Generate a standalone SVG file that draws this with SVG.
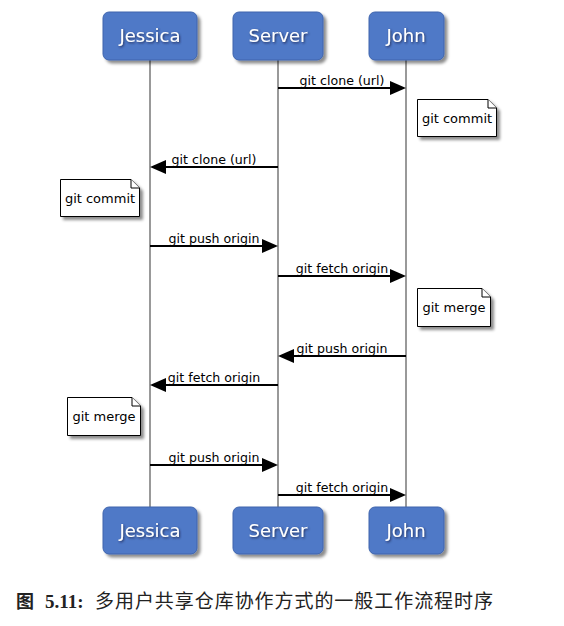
<svg xmlns="http://www.w3.org/2000/svg" width="564" height="626" viewBox="0 0 564 626">
<defs>
<filter id="sh" x="-20%" y="-20%" width="150%" height="150%">
<feDropShadow dx="3" dy="3" stdDeviation="1.5" flood-color="#000" flood-opacity="0.45"/>
</filter>
<filter id="tsh" x="-20%" y="-40%" width="140%" height="180%">
<feDropShadow dx="1" dy="1.2" stdDeviation="0.8" flood-color="#1a2a55" flood-opacity="0.9"/>
</filter>
<marker id="ah" markerUnits="userSpaceOnUse" markerWidth="16" markerHeight="14" refX="8" refY="7" orient="auto">
<path d="M0,0 L16,7 L0,14 z" fill="#000"/>
</marker>
</defs>
<style>
.actor{fill:#4f79c7;stroke:#3f64ad;stroke-width:1}
.alabel{font-family:"DejaVu Sans",sans-serif;font-size:18px;fill:#fff;text-anchor:middle}
.life{stroke:#999;stroke-width:2}
.msg{stroke:#000;stroke-width:2;fill:none}
.mlabel{font-family:"DejaVu Sans",sans-serif;font-size:12.6px;fill:#000;text-anchor:middle}
.note{fill:#fff;stroke:#000;stroke-width:1}
.nlabel{font-family:"DejaVu Sans",sans-serif;font-size:13px;fill:#000;text-anchor:middle}
</style>
<rect width="564" height="626" fill="#fff"/>

<g id="lifelines">
<line class="life" x1="150" y1="60" x2="150" y2="507"/>
<line class="life" x1="278" y1="60" x2="278" y2="507"/>
<line class="life" x1="406" y1="60" x2="406" y2="507"/>
</g>

<g id="jessica-top"><rect class="actor" x="103" y="12" width="94" height="48" rx="6" filter="url(#sh)"/><text class="alabel" x="150" y="42" filter="url(#tsh)">Jessica</text></g>
<g id="server-top"><rect class="actor" x="233" y="12" width="90" height="48" rx="6" filter="url(#sh)"/><text class="alabel" x="278" y="42" filter="url(#tsh)">Server</text></g>
<g id="john-top"><rect class="actor" x="369" y="12" width="75" height="48" rx="6" filter="url(#sh)"/><text class="alabel" x="406" y="42" filter="url(#tsh)">John</text></g>

<g id="jessica-bottom"><rect class="actor" x="103" y="507" width="94" height="47" rx="6" filter="url(#sh)"/><text class="alabel" x="150" y="537" filter="url(#tsh)">Jessica</text></g>
<g id="server-bottom"><rect class="actor" x="233" y="507" width="90" height="47" rx="6" filter="url(#sh)"/><text class="alabel" x="278" y="537" filter="url(#tsh)">Server</text></g>
<g id="john-bottom"><rect class="actor" x="369" y="507" width="75" height="47" rx="6" filter="url(#sh)"/><text class="alabel" x="406" y="537" filter="url(#tsh)">John</text></g>

<g id="connectors">
<line class="msg" x1="278" y1="88" x2="398" y2="88" marker-end="url(#ah)"/>
<text class="mlabel" x="342" y="85">git clone (url)</text>
<line class="msg" x1="278" y1="167" x2="158" y2="167" marker-end="url(#ah)"/>
<text class="mlabel" x="214" y="164">git clone (url)</text>
<line class="msg" x1="150" y1="246" x2="270" y2="246" marker-end="url(#ah)"/>
<text class="mlabel" x="214" y="243">git push origin</text>
<line class="msg" x1="278" y1="276" x2="398" y2="276" marker-end="url(#ah)"/>
<text class="mlabel" x="342" y="273">git fetch origin</text>
<line class="msg" x1="406" y1="356" x2="286" y2="356" marker-end="url(#ah)"/>
<text class="mlabel" x="342" y="353">git push origin</text>
<line class="msg" x1="278" y1="385" x2="158" y2="385" marker-end="url(#ah)"/>
<text class="mlabel" x="214" y="382">git fetch origin</text>
<line class="msg" x1="150" y1="465" x2="270" y2="465" marker-end="url(#ah)"/>
<text class="mlabel" x="214" y="462">git push origin</text>
<line class="msg" x1="278" y1="495" x2="398" y2="495" marker-end="url(#ah)"/>
<text class="mlabel" x="342" y="492">git fetch origin</text>
</g>

<g id="note-john-commit">
<path class="note" d="M417.5,99.5 H488 L496.5,108 V136.5 H417.5 Z" filter="url(#sh)"/>
<path class="note" d="M488,99.5 V108 H496.5" fill="none"/>
<text class="nlabel" x="457" y="123">git commit</text>
</g>
<g id="note-jessica-commit">
<path class="note" d="M60.5,179.5 H131 L139.5,188 V216.5 H60.5 Z" filter="url(#sh)"/>
<path class="note" d="M131,179.5 V188 H139.5" fill="none"/>
<text class="nlabel" x="100" y="203">git commit</text>
</g>
<g id="note-john-merge">
<path class="note" d="M417.5,288.5 H482 L490.5,297 V326.5 H417.5 Z" filter="url(#sh)"/>
<path class="note" d="M482,288.5 V297 H490.5" fill="none"/>
<text class="nlabel" x="454" y="312">git merge</text>
</g>
<g id="note-jessica-merge">
<path class="note" d="M67.5,397.5 H132 L140.5,406 V435.5 H67.5 Z" filter="url(#sh)"/>
<path class="note" d="M132,397.5 V406 H140.5" fill="none"/>
<text class="nlabel" x="104" y="421">git merge</text>
</g>

<g id="caption">
<text x="16" y="608" font-family="'Noto Sans CJK SC',sans-serif" font-size="18px" font-weight="bold" fill="#222">图</text>
<text x="45" y="608" font-family="'Liberation Serif',serif" font-size="19px" font-weight="bold" fill="#222">5.11:</text>
<text x="95" y="608" font-family="'Liberation Serif','Noto Sans CJK SC',serif" font-size="19px" fill="#222" textLength="398" lengthAdjust="spacing">多用户共享仓库协作方式的一般工作流程时序</text>
</g>
</svg>
